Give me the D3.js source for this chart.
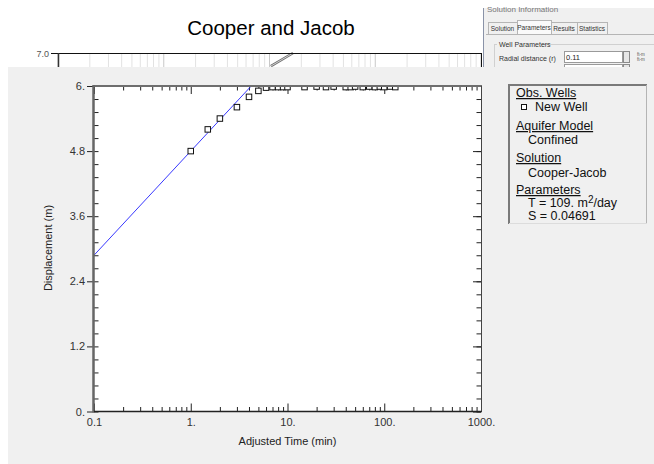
<!DOCTYPE html>
<html>
<head>
<meta charset="utf-8">
<script src="https://cdn.jsdelivr.net/npm/d3@7"></script>
<style>
    body { margin: 0; background: #ffffff; }
    svg { display: block; font-family: Arial, "Liberation Sans", sans-serif; }
</style>
</head>
<body>
<div id="div_placeholder"></div>
<script>
// observation well data (time in min, displacement in m)
var obsTime = [1, 1.5, 2, 3, 4, 5, 6, 7, 8, 9, 10, 15, 20, 25, 30, 40, 45, 50, 60, 70, 80, 90, 100, 115, 130];
var obsDisp = [4.80, 5.20, 5.40, 5.61, 5.80, 5.91, 5.97, 5.98, 5.98, 5.98, 5.98, 5.98, 5.99, 5.98, 5.99, 5.98, 5.98, 5.99, 5.98, 5.99, 5.98, 5.99, 5.98, 5.99, 5.98];

// Cooper-Jacob straight line
var fitTime = [0.1, 10];
var fitDisp = [2.88, 6.72];

// axis ticks
var xTicks = [0.1, 1, 10, 100, 1000];
var xTickLabels = ["0.1", "1.", "10.", "100.", "1000."];
var yTicks = [0, 1.2, 2.4, 3.6, 4.8, 6];
var yTickLabels = ["0.", "1.2", "2.4", "3.6", "4.8", "6."];

// legend panel
var legendHeads = ["Obs. Wells", "Aquifer Model", "Solution", "Parameters"];
var legendItems = ["New Well", "Confined", "Cooper-Jacob"];

// window behind (only the top strip shows)
var backFitTime = [10.3, 16.7];
var backFitDisp = [6.59, 7.0];
var tabNames = ["Solution", "Parameters", "Results", "Statistics"];

var width = 654;
var height = 464;

var svg = d3.select("#div_placeholder")
    .append("svg")
    .attr("width", width)
    .attr("height", height);

//---- back window: title and top of the older plot
svg.append("text")
    .attr("x", 271).attr("y", 35)
    .attr("text-anchor", "middle")
    .style("font-size", "20.5px")
    .style("fill", "#000")
    .text("Cooper and Jacob");

var xBack = d3.scaleLog().domain([0.1, 1000]).range([58, 481]);
var yBack = d3.scaleLinear().domain([7, 6]).range([53, 85]);

var layerBack = svg.append("g");
layerBack.selectAll("line.grid")
    .data(xBack.ticks())
    .enter()
    .append("line")
    .attr("class", "grid")
    .attr("x1", function (d) { return xBack(d); })
    .attr("x2", function (d) { return xBack(d); })
    .attr("y1", 53).attr("y2", 67)
    .style("stroke", function (d) {
        return Math.abs(Math.log10(d) - Math.round(Math.log10(d))) < 1e-6 ? "#c8c8c8" : "#e2e2e2";
    });

var backLine = d3.line()
    .x(function (d) { return xBack(d[0]); })
    .y(function (d) { return yBack(d[1]); });
var backPts = d3.zip(backFitTime, backFitDisp);
layerBack.append("path").attr("d", backLine(backPts))
    .style("stroke", "#707070").style("stroke-width", 2.6).style("fill", "none");
layerBack.append("path").attr("d", backLine(backPts))
    .style("stroke", "#e8e8e8").style("stroke-width", 0.8).style("fill", "none");

layerBack.append("line").attr("x1", 51).attr("x2", 481).attr("y1", 53.5).attr("y2", 53.5)
    .style("stroke", "#111");
layerBack.append("line").attr("x1", 58.5).attr("x2", 58.5).attr("y1", 53).attr("y2", 67)
    .style("stroke", "#333").style("stroke-width", 1.5);
layerBack.append("line").attr("x1", 481.5).attr("x2", 481.5).attr("y1", 53).attr("y2", 67)
    .style("stroke", "#111");
layerBack.append("text")
    .attr("x", 49).attr("y", 56.5)
    .attr("text-anchor", "end")
    .style("font-size", "9px").style("fill", "#555")
    .text("7.0");

//---- back window: solution information panel
var panel = svg.append("g");
panel.append("rect").attr("x", 483).attr("y", 8).attr("width", 171).attr("height", 59)
    .style("fill", "#f0f0f0");
panel.append("line").attr("x1", 483.5).attr("x2", 483.5).attr("y1", 8).attr("y2", 67)
    .style("stroke", "#8a93a8");
panel.append("text").attr("x", 487).attr("y", 12)
    .style("font-size", "8px").style("fill", "#777")
    .text("Solution Information");

var tabX = [488, 517, 551, 577];
var tabW = [29, 34, 26, 30];
panel.append("line").attr("x1", 486).attr("x2", 654).attr("y1", 34.5).attr("y2", 34.5)
    .style("stroke", "#b5b5b5");
panel.selectAll("rect.tab")
    .data(tabNames)
    .enter()
    .append("rect")
    .attr("class", "tab")
    .attr("x", function (d, i) { return tabX[i] + 0.5; })
    .attr("y", function (d, i) { return i === 1 ? 20.5 : 22.5; })
    .attr("width", function (d, i) { return tabW[i]; })
    .attr("height", function (d, i) { return i === 1 ? 14 : 12; })
    .style("fill", function (d, i) { return i === 1 ? "#fafafa" : "#f0f0f0"; })
    .style("stroke", "#b5b5b5");
panel.selectAll("text.tab")
    .data(tabNames)
    .enter()
    .append("text")
    .attr("class", "tab")
    .attr("x", function (d, i) { return tabX[i] + tabW[i] / 2; })
    .attr("y", function (d, i) { return i === 1 ? 29.5 : 31; })
    .attr("text-anchor", "middle")
    .style("font-size", "6.5px").style("fill", "#333")
    .text(function (d) { return d; });

panel.append("rect").attr("x", 494.5).attr("y", 44.5).attr("width", 170).attr("height", 40)
    .style("fill", "none").style("stroke", "#d0d0d0");
panel.append("rect").attr("x", 497).attr("y", 40).attr("width", 44).attr("height", 8)
    .style("fill", "#f0f0f0");
panel.append("text").attr("x", 499).attr("y", 47)
    .style("font-size", "7px").style("fill", "#333")
    .text("Well Parameters");
panel.append("text").attr("x", 499).attr("y", 61)
    .style("font-size", "7px").style("fill", "#333")
    .text("Radial distance (r)");
panel.append("rect").attr("x", 564.5).attr("y", 51.5).attr("width", 58).attr("height", 11)
    .style("fill", "#fff").style("stroke", "#9a9a9a");
panel.append("text").attr("x", 566).attr("y", 60)
    .style("font-size", "7.5px").style("fill", "#222")
    .text("0.11");
panel.append("rect").attr("x", 623.5).attr("y", 51.5).attr("width", 6).attr("height", 11)
    .style("fill", "#e6e6e6").style("stroke", "#8a8a8a");
panel.append("text").attr("x", 637).attr("y", 56)
    .style("font-size", "4.5px").style("fill", "#555").text("ft-m");
panel.append("text").attr("x", 637).attr("y", 61)
    .style("font-size", "4.5px").style("fill", "#555").text("ft-m");
panel.append("rect").attr("x", 564.5).attr("y", 64.5).attr("width", 58).attr("height", 10)
    .style("fill", "#fff").style("stroke", "#9a9a9a");
panel.append("rect").attr("x", 623.5).attr("y", 64.5).attr("width", 6).attr("height", 10)
    .style("fill", "#e6e6e6").style("stroke", "#8a8a8a");

//---- front window
svg.append("rect").attr("x", 8).attr("y", 67).attr("width", width - 8).attr("height", height - 67)
    .style("fill", "#f0f0f0");

var plot = { left: 94, right: 481, top: 86, bottom: 411.5 };

var x = d3.scaleLog().domain([0.1, 1000]).range([plot.left, plot.right]);
var y = d3.scaleLinear().domain([0, 6]).range([plot.bottom, plot.top]);

svg.append("rect")
    .attr("x", plot.left).attr("y", plot.top)
    .attr("width", plot.right - plot.left).attr("height", plot.bottom - plot.top)
    .style("fill", "#ffffff");

svg.append("clipPath").attr("id", "plotclip")
    .append("rect")
    .attr("x", plot.left).attr("y", plot.top)
    .attr("width", plot.right - plot.left).attr("height", plot.bottom - plot.top);

var yMinor = d3.range(0, 6.001, 0.24);

// axes
var minorX = x.ticks().filter(function (d) { return xTicks.indexOf(d) < 0; });

svg.append("g").attr("transform", "translate(0," + plot.bottom + ")")
    .call(d3.axisBottom(x).tickValues(minorX).tickSizeInner(-4.5).tickSizeOuter(0).tickFormat(""));
svg.append("g").attr("class", "xaxis").attr("transform", "translate(0," + plot.bottom + ")")
    .call(d3.axisBottom(x).tickValues(xTicks).tickSizeInner(-8).tickSizeOuter(0).tickPadding(7)
        .tickFormat(function (d, i) { return xTickLabels[i]; }));
svg.append("g").attr("transform", "translate(0," + plot.top + ")")
    .call(d3.axisTop(x).tickValues(minorX).tickSizeInner(-4.5).tickSizeOuter(0).tickFormat(""));
svg.append("g").attr("transform", "translate(0," + plot.top + ")")
    .call(d3.axisTop(x).tickValues(xTicks).tickSizeInner(-8).tickSizeOuter(0).tickFormat(""));

svg.append("g").attr("transform", "translate(" + plot.left + ",0)")
    .call(d3.axisLeft(y).tickValues(yMinor).tickSizeInner(-4.5).tickSizeOuter(0).tickFormat(""));
svg.append("g").attr("class", "yaxis").attr("transform", "translate(" + plot.left + ",0)")
    .call(d3.axisLeft(y).tickValues(yTicks).tickSizeInner(7).tickSizeOuter(0).tickPadding(2)
        .tickFormat(function (d, i) { return yTickLabels[i]; }));
svg.append("g").attr("transform", "translate(" + plot.right + ",0)")
    .call(d3.axisRight(y).tickValues(yMinor).tickSizeInner(-4.5).tickSizeOuter(0).tickFormat(""));
svg.append("g").attr("transform", "translate(" + plot.right + ",0)")
    .call(d3.axisRight(y).tickValues(yTicks).tickSizeInner(-8).tickSizeOuter(0).tickFormat(""));

svg.selectAll(".domain").remove();
svg.selectAll(".tick line").style("stroke", "#222");
svg.selectAll(".xaxis text, .yaxis text")
    .style("font-family", "Arial, 'Liberation Sans', sans-serif")
    .style("font-size", "11px")
    .style("fill", "#333");

// fit line and observations
var layerData = svg.append("g").attr("clip-path", "url(#plotclip)");

var fitLine = d3.line()
    .x(function (d) { return x(d[0]); })
    .y(function (d) { return y(d[1]); });

layerData.append("path")
    .attr("d", fitLine(d3.zip(fitTime, fitDisp)))
    .style("fill", "none")
    .style("stroke", "#3838ff")
    .style("stroke-width", 1);

layerData.selectAll("rect.obs")
    .data(d3.zip(obsTime, obsDisp))
    .enter()
    .append("rect")
    .attr("class", "obs")
    .attr("x", function (d) { return x(d[0]) - 2.75; })
    .attr("y", function (d) { return y(d[1]) - 2.75; })
    .attr("width", 5.5).attr("height", 5.5)
    .style("fill", "#fff")
    .style("stroke", "#111")
    .style("stroke-width", 1);

// frame
svg.append("line").attr("x1", plot.left).attr("x2", plot.right + 1).attr("y1", plot.top).attr("y2", plot.top)
    .style("stroke", "#6e6e6e").style("stroke-width", 2);
svg.append("line").attr("x1", plot.left - 0.5).attr("x2", plot.left - 0.5).attr("y1", plot.top - 1).attr("y2", plot.bottom + 1)
    .style("stroke", "#666").style("stroke-width", 2.5);
svg.append("line").attr("x1", plot.left).attr("x2", plot.right + 1).attr("y1", plot.bottom).attr("y2", plot.bottom)
    .style("stroke", "#222").style("stroke-width", 1.5);
svg.append("line").attr("x1", plot.right + 0.5).attr("x2", plot.right + 0.5).attr("y1", plot.top).attr("y2", plot.bottom)
    .style("stroke", "#444").style("stroke-width", 1);

// axis titles
svg.append("text")
    .attr("x", (plot.left + plot.right) / 2).attr("y", 445)
    .attr("text-anchor", "middle")
    .style("font-size", "11px").style("fill", "#222")
    .text("Adjusted Time (min)");
svg.append("text")
    .attr("transform", "translate(52,248) rotate(-90)")
    .attr("text-anchor", "middle")
    .style("font-size", "11px").style("fill", "#222")
    .text("Displacement (m)");

//---- legend box
var legend = svg.append("g");
legend.append("line").attr("x1", 508).attr("x2", 647).attr("y1", 85).attr("y2", 85)
    .style("stroke", "#7a7a7a").style("stroke-width", 2);
legend.append("line").attr("x1", 509).attr("x2", 509).attr("y1", 84).attr("y2", 224)
    .style("stroke", "#7a7a7a").style("stroke-width", 2);
legend.append("line").attr("x1", 646.5).attr("x2", 646.5).attr("y1", 85).attr("y2", 224)
    .style("stroke", "#b4b4b4").style("stroke-width", 1);
legend.append("line").attr("x1", 509).attr("x2", 647).attr("y1", 223.5).attr("y2", 223.5)
    .style("stroke", "#dcdcdc").style("stroke-width", 1);

var headY = [97, 130, 162, 194];
legend.selectAll("text.head")
    .data(legendHeads)
    .enter()
    .append("text")
    .attr("class", "head")
    .attr("x", 516)
    .attr("y", function (d, i) { return headY[i]; })
    .attr("text-decoration", "underline")
    .style("font-size", "12.5px").style("fill", "#111")
    .text(function (d) { return d; });

var itemY = [111, 144, 177];
var itemX = [535, 528, 528];
legend.selectAll("text.item")
    .data(legendItems)
    .enter()
    .append("text")
    .attr("class", "item")
    .attr("x", function (d, i) { return itemX[i]; })
    .attr("y", function (d, i) { return itemY[i]; })
    .style("font-size", "12.5px").style("fill", "#111")
    .text(function (d) { return d; });

legend.append("rect")
    .attr("x", 521.5).attr("y", 104.5).attr("width", 5).attr("height", 5)
    .style("fill", "#fff").style("stroke", "#111");

var tText = legend.append("text").attr("x", 528).attr("y", 207)
    .style("font-size", "12.5px").style("fill", "#111");
tText.append("tspan").text("T = 109. m");
tText.append("tspan").attr("dy", -4.5).style("font-size", "10px").text("2");
tText.append("tspan").attr("dy", 4.5).text("/day");
legend.append("text").attr("x", 528).attr("y", 220)
    .style("font-size", "12.5px").style("fill", "#111")
    .text("S = 0.04691");
</script>
</body>
</html>
